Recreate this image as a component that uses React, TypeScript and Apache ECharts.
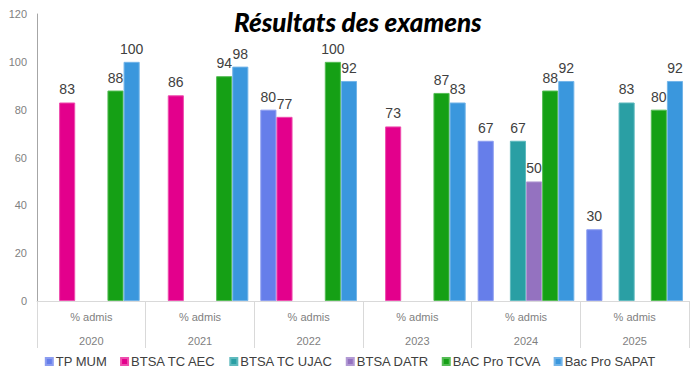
import React, { useEffect, useRef } from "react";
import * as echarts from "echarts";

const years = ["2020", "2021", "2022", "2023", "2024", "2025"];
const subLabel = "% admis";
const seriesNames = ["TP MUM", "BTSA TC AEC", "BTSA TC UJAC", "BTSA DATR", "BAC Pro TCVA", "Bac Pro SAPAT"];
const tpMum = [null, null, 80, null, 67, 30];
const btsaAec = [83, 86, 77, 73, null, null];
const btsaUjac = [null, null, null, null, 67, 83];
const btsaDatr = [null, null, null, null, 50, null];
const bacTcva = [88, 94, 100, 87, 88, 80];
const bacSapat = [100, 98, 92, 83, 92, 92];
const colors = ["#667EEA", "#E3008C", "#2A9FA4", "#9472C0", "#15A015", "#3A97DD"];
const borders = ["#8C9DF0", "#EE4DAE", "#5FBABE", "#B29AD4", "#55BC55", "#72B4E8"];

export default function App() {
  const ref = useRef<HTMLDivElement>(null);
  useEffect(() => {
    if (!ref.current) return;
    const chart = echarts.init(ref.current, null, { renderer: "svg" });
    const values = [tpMum, btsaAec, btsaUjac, btsaDatr, bacTcva, bacSapat];
    chart.setOption({
      animation: false,
      backgroundColor: "#ffffff",
      title: {
        text: "Résultats des examens",
        left: 229,
        top: 4,
        textStyle: {
          fontFamily: "Lato",
          fontSize: 26,
          fontWeight: 900,
          fontStyle: "italic",
          color: "#000000",
        },
      },
      legend: {
        bottom: 9,
        left: "center",
        itemWidth: 7,
        itemHeight: 7,
        itemGap: 13,
        icon: "rect",
        textStyle: { fontFamily: "Liberation Sans", fontSize: 13, color: "#404040", padding: [0, 0, 0, -2] },
        data: seriesNames,
      },
      grid: { left: 37, right: 11, top: 14, bottom: 81 },
      xAxis: {
        type: "category",
        data: years,
        axisLine: { show: true, lineStyle: { color: "#D9D9D9" } },
        axisTick: { show: true, length: 47, lineStyle: { color: "#D9D9D9" } },
        axisLabel: {
          margin: 4,
          formatter: (v: string) => `{a|${subLabel}}\n{b|${v}}`,
          rich: {
            a: { fontFamily: "Liberation Sans", fontSize: 11, color: "#7F7F7F", lineHeight: 24 },
            b: { fontFamily: "Liberation Sans", fontSize: 11, color: "#7F7F7F", lineHeight: 24 },
          },
        },
      },
      yAxis: {
        type: "value",
        min: 0,
        max: 120,
        interval: 20,
        axisLine: { show: true, lineStyle: { color: "#A6A6A6" } },
        axisTick: { show: false },
        splitLine: { show: false },
        axisLabel: { margin: 10, fontFamily: "Liberation Sans", fontSize: 11, color: "#7F7F7F" },
      },
      series: seriesNames.map((name, i) => ({
        name,
        type: "bar",
        data: values[i],
        barGap: "0%",
        barCategoryGap: "11%",
        itemStyle: { color: colors[i], borderColor: borders[i], borderWidth: 1 },
        label: {
          show: true,
          position: "top",
          distance: 6,
          fontFamily: "Liberation Sans",
          fontSize: 14,
          color: "#404040",
        },
      })),
    });
    return () => chart.dispose();
  }, []);
  return <div ref={ref} style={{ width: 700, height: 382, position: "absolute", left: 0, top: 0 }} />;
}
